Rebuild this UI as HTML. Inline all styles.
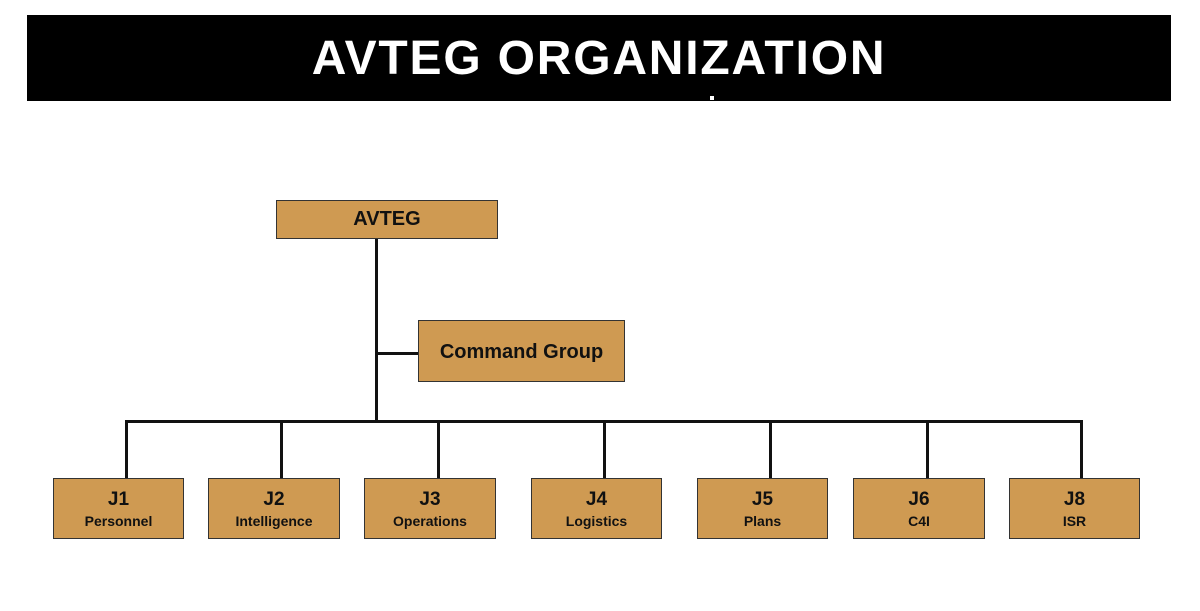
<!DOCTYPE html>
<html><head><style>
body{margin:0;width:1200px;height:611px;background:#fff;position:relative;overflow:hidden;font-family:"Liberation Sans",Arial,sans-serif}
.bar{position:absolute;left:27px;top:15px;width:1144px;height:86px;background:#000;color:#fff;font-weight:bold;font-size:48px;text-align:center;line-height:88px;letter-spacing:1.8px}
.b{position:absolute;background:#cf9a52;border:1.5px solid #333;box-sizing:border-box;text-align:center;font-weight:bold;color:#111}
.l{position:absolute;background:#111}
.j{top:478px;height:61px;width:131px}
.j .a{font-size:19px;margin-top:11px;line-height:20px}
.j .c{font-size:14px;margin-top:3px}
</style></head><body>
<div class="bar">AVTEG ORGANIZATION</div>
<div style="position:absolute;left:710px;top:96px;width:4px;height:4px;background:#fff"></div>
<div class="b" style="left:276px;top:200px;width:222px;height:39px;font-size:20px;line-height:37px">AVTEG</div>
<div class="b" style="left:418px;top:320px;width:207px;height:62px;font-size:20px;line-height:62px">Command Group</div>
<div class="l" style="left:375px;top:239px;width:3px;height:184px"></div>
<div class="l" style="left:377px;top:352px;width:41px;height:3px"></div>
<div class="l" style="left:125px;top:420px;width:958px;height:3px"></div>
<div class="l" style="left:125px;top:421px;width:3px;height:57px"></div>
<div class="l" style="left:280px;top:421px;width:3px;height:57px"></div>
<div class="l" style="left:437px;top:421px;width:3px;height:57px"></div>
<div class="l" style="left:603px;top:421px;width:3px;height:57px"></div>
<div class="l" style="left:769px;top:421px;width:3px;height:57px"></div>
<div class="l" style="left:926px;top:421px;width:3px;height:57px"></div>
<div class="l" style="left:1080px;top:421px;width:3px;height:57px"></div>
<div class="b j" style="left:53px"><div class="a">J1</div><div class="c">Personnel</div></div>
<div class="b j" style="left:208px;width:132px"><div class="a">J2</div><div class="c">Intelligence</div></div>
<div class="b j" style="left:364px;width:132px"><div class="a">J3</div><div class="c">Operations</div></div>
<div class="b j" style="left:531px"><div class="a">J4</div><div class="c">Logistics</div></div>
<div class="b j" style="left:697px"><div class="a">J5</div><div class="c">Plans</div></div>
<div class="b j" style="left:853px;width:132px"><div class="a">J6</div><div class="c">C4I</div></div>
<div class="b j" style="left:1009px"><div class="a">J8</div><div class="c">ISR</div></div>
</body></html>
